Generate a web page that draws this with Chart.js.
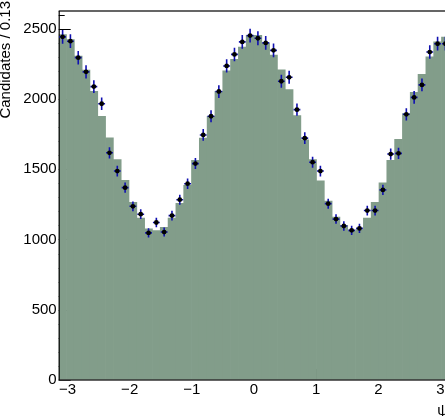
<!DOCTYPE html>
<html>
<head>
<meta charset="utf-8">
<script src="https://cdn.jsdelivr.net/npm/chart.js@4.4.0/dist/chart.umd.min.js"></script>
<style>
html, body { margin: 0; padding: 0; overflow: hidden; background: #fff; }
#c { display: block; }
</style>
</head>
<body>
<canvas id="c" width="460" height="416"></canvas>
<script>
// binning of psi, 50 bins over [-pi, pi]
const nBins = 50;
const psiMin = -Math.PI;
const psiMax = Math.PI;

// fitted pdf, drawn as filled histogram
const pdfCounts = [
  2458, 2423, 2306, 2205, 2055, 1877, 1723, 1568, 1421, 1264,
  1152, 1075, 1063, 1086, 1152, 1257, 1386, 1564, 1721, 1877,
  2055, 2200, 2282, 2370, 2453, 2453, 2400, 2313, 2207, 2067,
  1882, 1709, 1568, 1418, 1273, 1159, 1100, 1058, 1070, 1152,
  1264, 1404, 1564, 1713, 1896, 2048, 2175, 2299, 2406, 2441
];

// data points
const dataCounts = [
  2442, 2411, 2294, 2193, 2088, 1966, 1617, 1487, 1369, 1236,
  1180, 1047, 1121, 1053, 1170, 1283, 1397, 1540, 1744, 1877,
  2053, 2235, 2317, 2406, 2451, 2432, 2399, 2346, 2126, 2154,
  1924, 1721, 1550, 1487, 1255, 1145, 1096, 1065, 1079, 1206,
  1206, 1353, 1608, 1613, 1891, 2011, 2100, 2334, 2393, 2393
];

const xTicks = [-3, -2, -1, 0, 1, 2, 3];
const yTicks = [0, 500, 1000, 1500, 2000, 2500];
const yMinor = [100, 200, 300, 400, 600, 700, 800, 900, 1100, 1200, 1300, 1400,
  1600, 1700, 1800, 1900, 2100, 2200, 2300, 2400, 2600];
const yMax = 2626;

const binW = (psiMax - psiMin) / nBins;
const centers = pdfCounts.map((_, i) => psiMin + (i + 0.5) * binW);

const FONT = "'Liberation Sans', Arial, Helvetica, sans-serif";

// frame, inner ticks, error bars, axis titles
const rooStyle = {
  id: 'rooStyle',
  beforeDatasetsDraw(chart) {
    const { ctx, scales: { x, y }, chartArea: a } = chart;
    ctx.save();
    ctx.strokeStyle = '#000';
    ctx.lineWidth = 1;
    ctx.beginPath();
    yTicks.forEach(v => {
      const py = Math.round(y.getPixelForValue(v)) + 0.5;
      ctx.moveTo(a.left, py); ctx.lineTo(a.left + 12, py);
    });
    yMinor.forEach(v => {
      const py = Math.round(y.getPixelForValue(v)) + 0.5;
      ctx.moveTo(a.left, py); ctx.lineTo(a.left + 6, py);
    });
    xTicks.forEach(v => {
      const px = Math.round(x.getPixelForValue(v)) + 0.5;
      ctx.moveTo(px, a.bottom); ctx.lineTo(px, a.bottom - 11);
    });
    ctx.stroke();
    ctx.restore();
  },
  afterDatasetDraw(chart, args) {
    if (args.index !== 1) return;
    const { ctx, scales: { x, y }, chartArea: a } = chart;
    ctx.save();
    // frame
    ctx.strokeStyle = '#333';
    ctx.lineWidth = 1.5;
    ctx.beginPath();
    ctx.moveTo(a.left, a.top); ctx.lineTo(a.right, a.top);
    ctx.moveTo(a.left, a.bottom); ctx.lineTo(a.right, a.bottom);
    ctx.stroke();
    ctx.strokeStyle = '#000';
    ctx.lineWidth = 1.2;
    ctx.beginPath();
    ctx.moveTo(a.left + 0.5, a.top); ctx.lineTo(a.left + 0.5, a.bottom);
    ctx.stroke();
    // error bars
    ctx.strokeStyle = '#1010b0';
    ctx.lineWidth = 1.6;
    ctx.beginPath();
    dataCounts.forEach((n, i) => {
      const e = Math.sqrt(n);
      const px = x.getPixelForValue(centers[i]);
      const x0 = x.getPixelForValue(centers[i] - binW / 2);
      const x1 = x.getPixelForValue(centers[i] + binW / 2);
      const py = y.getPixelForValue(n);
      ctx.moveTo(px, y.getPixelForValue(n - e));
      ctx.lineTo(px, y.getPixelForValue(n + e));
      ctx.moveTo(x0 + 0.5, py);
      ctx.lineTo(x1 - 0.5, py);
    });
    ctx.stroke();
    ctx.restore();
  },
  afterDraw(chart) {
    const { ctx } = chart;
    ctx.save();
    ctx.fillStyle = '#000';
    ctx.font = '15px ' + FONT;
    ctx.translate(10, 1);
    ctx.rotate(-Math.PI / 2);
    ctx.textAlign = 'right';
    ctx.textBaseline = 'alphabetic';
    ctx.fillText('Candidates / 0.13', 0, 0);
    ctx.restore();
    ctx.save();
    ctx.fillStyle = '#000';
    ctx.font = '15px ' + FONT;
    ctx.textAlign = 'right';
    ctx.textBaseline = 'top';
    ctx.fillText('\u03c8', 448, 403);
    ctx.restore();
  }
};

new Chart(document.getElementById('c'), {
  type: 'bar',
  data: {
    datasets: [
      {
        type: 'scatter',
        data: centers.map((c, i) => ({ x: c, y: dataCounts[i] })),
        pointRadius: 2.4,
        pointBackgroundColor: '#000',
        pointBorderWidth: 0,
        order: 1
      },
      {
        type: 'bar',
        data: centers.map((c, i) => ({ x: c, y: pdfCounts[i] })),
        backgroundColor: '#829d8a',
        borderWidth: 0,
        barPercentage: 1,
        categoryPercentage: 1,
        order: 2
      }
    ]
  },
  options: {
    responsive: false,
    animation: false,
    events: [],
    layout: { padding: { top: 6, right: 10.7, left: 0, bottom: 0 } },
    plugins: { legend: { display: false }, tooltip: { enabled: false } },
    scales: {
      x: {
        type: 'linear',
        offset: false,
        min: psiMin,
        max: psiMax,
        grid: { display: false, drawTicks: false, offset: false },
        border: { display: false },
        ticks: {
          autoSkip: false,
          maxRotation: 0,
          padding: 1,
          color: '#000',
          font: { family: FONT, size: 15 },
          callback: v => String(v).replace('-', '\u2212')
        },
        afterBuildTicks: s => { s.ticks = xTicks.map(v => ({ value: v })); },
        afterFit: s => { s.height = 36; }
      },
      y: {
        type: 'linear',
        min: 0,
        max: yMax,
        grid: { display: false, drawTicks: false },
        border: { display: false },
        ticks: {
          padding: 2,
          color: '#000',
          font: { family: FONT, size: 15 },
          callback: v => String(v)
        },
        afterBuildTicks: s => { s.ticks = yTicks.map(v => ({ value: v })); },
        afterFit: s => { s.width = 58.7; }
      }
    }
  },
  plugins: [rooStyle]
});
</script>
</body>
</html>
